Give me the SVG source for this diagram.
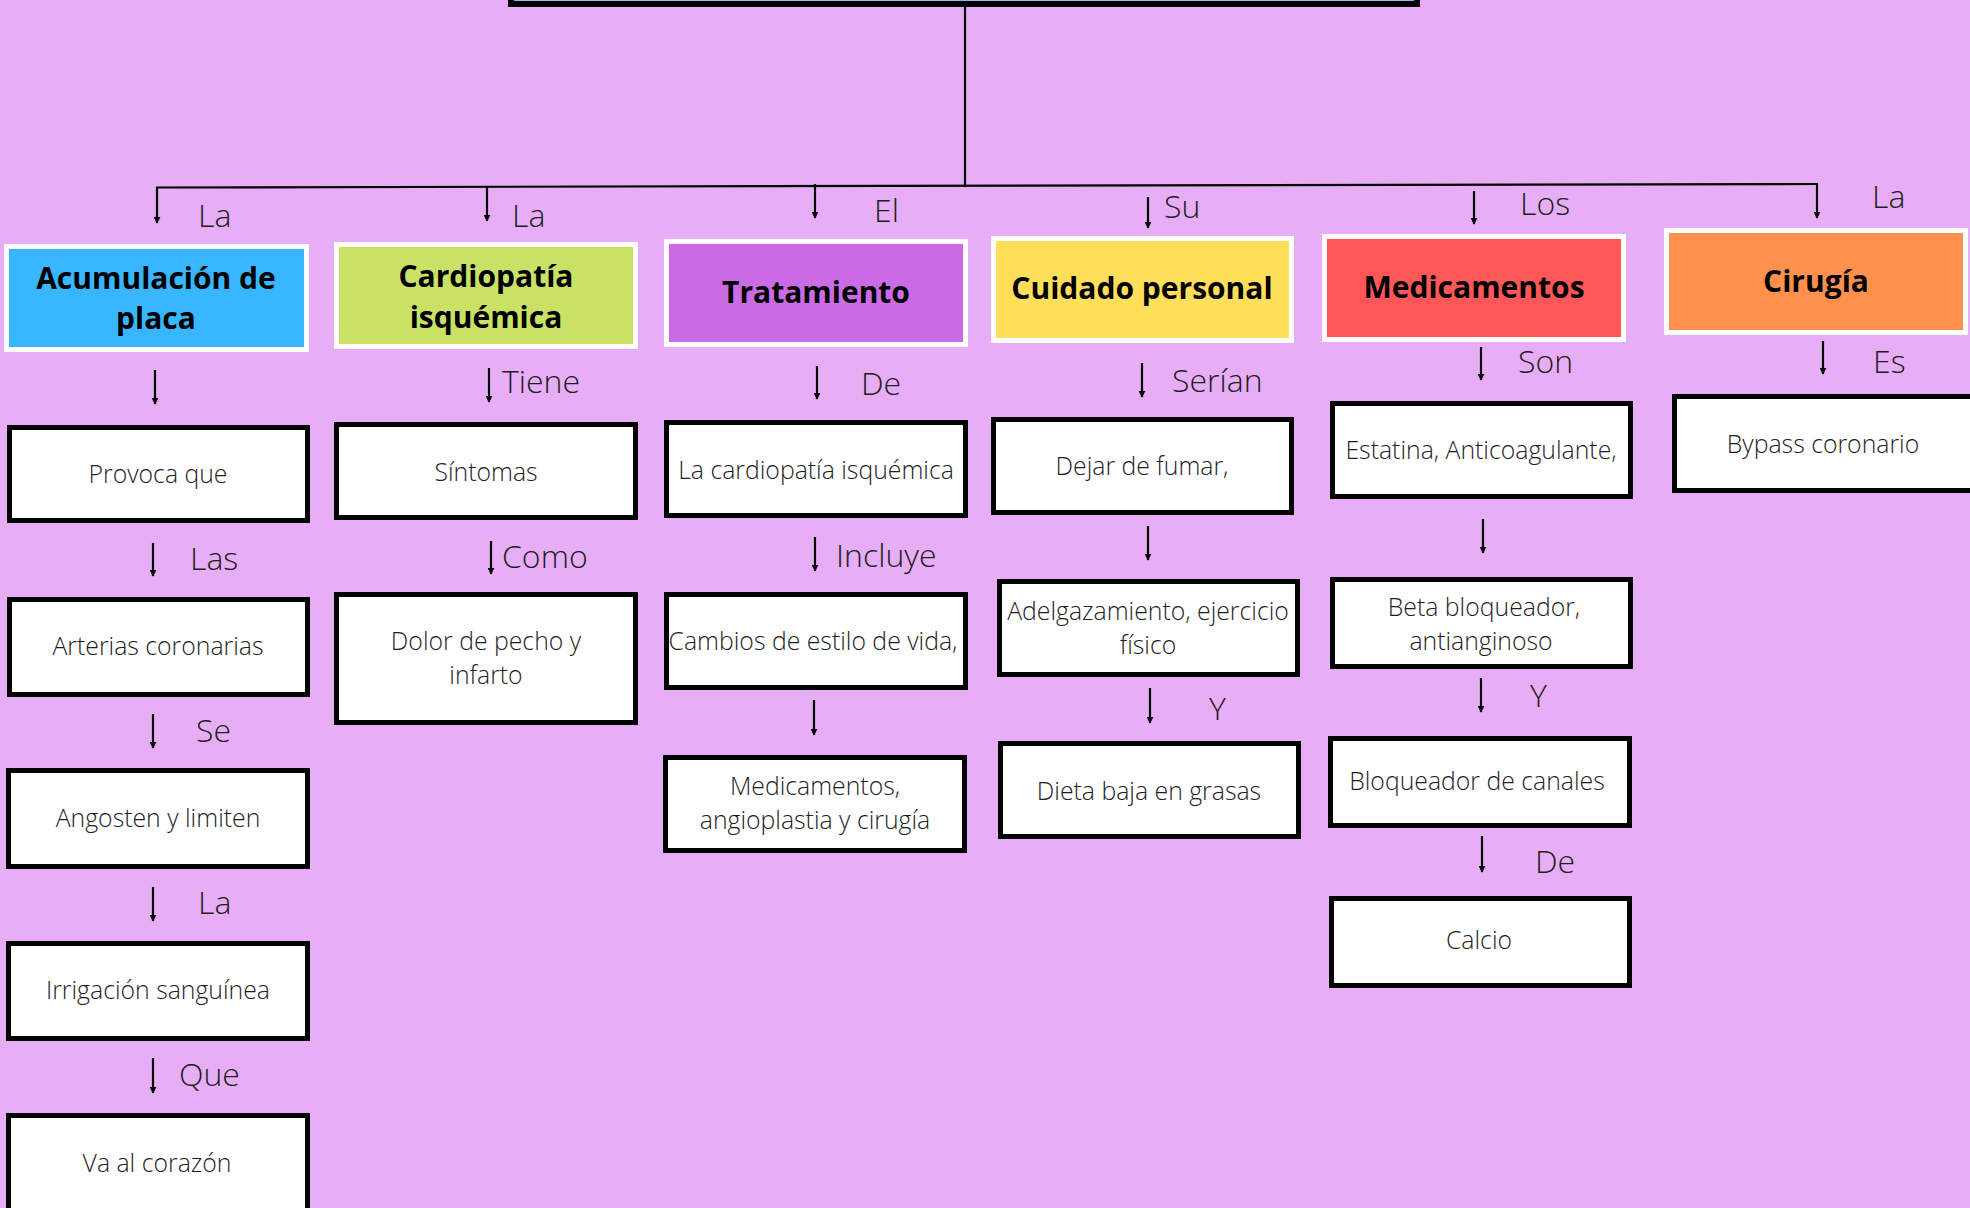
<svg xmlns="http://www.w3.org/2000/svg" width="1970" height="1208" viewBox="0 0 1970 1208">
  <style>
    .hdr { stroke: #ffffff; stroke-width: 5; }
    .hdr-t { font-family: "Open Sans", "Liberation Sans", sans-serif; font-weight: 700; font-size: 30px; fill: #000000; text-anchor: middle; }
    .box { fill: #ffffff; stroke: #000000; stroke-width: 5; }
    .box-t { font-family: "Open Sans", "Liberation Sans", sans-serif; font-weight: 300; font-size: 24.8px; fill: #1e1e1e; text-anchor: middle; }
    .lbl { font-family: "Open Sans", "Liberation Sans", sans-serif; font-weight: 300; font-size: 32px; fill: #1e1e1e; }
    .conn { stroke: #000000; stroke-width: 2.2; fill: none; }
    .arr { stroke: #000000; stroke-width: 2.2; fill: none; marker-end: url(#head); }
  </style>
  <defs>
    <marker id="head" viewBox="0 0 10 10" refX="9" refY="5" markerWidth="7" markerHeight="7" markerUnits="userSpaceOnUse" orient="auto">
      <path d="M0,0 L10,5 L0,10 z" fill="#000000"/>
    </marker>
  </defs>

  <!-- background -->
  <rect x="0" y="0" width="1970" height="1208" fill="#E7AEF7"/>

  <!-- title box (only its lower edge is in view) -->
  <g id="title">
    <rect x="511" y="-60" width="906" height="64" fill="#9CB2F2" stroke="#000000" stroke-width="6"/>
  </g>

  <!-- connectors -->
  <g id="connectors">
    <line class="conn" x1="965" y1="6" x2="965" y2="187"/>
    <line class="conn" x1="156" y1="187.5" x2="1818" y2="184"/>
    <line class="arr" x1="157" y1="187" x2="157" y2="223"/>
    <line class="arr" x1="487" y1="187" x2="487" y2="221"/>
    <line class="arr" x1="815" y1="184" x2="815" y2="218"/>
    <line class="arr" x1="1148" y1="197" x2="1148" y2="228"/>
    <line class="arr" x1="1474" y1="191" x2="1474" y2="224"/>
    <line class="arr" x1="1817" y1="184" x2="1817" y2="218"/>

    <!-- column 1 -->
    <line class="arr" x1="155" y1="370" x2="155" y2="404"/>
    <line class="arr" x1="153" y1="543" x2="153" y2="576"/>
    <line class="arr" x1="153" y1="714" x2="153" y2="748"/>
    <line class="arr" x1="153" y1="887" x2="153" y2="921"/>
    <line class="arr" x1="153" y1="1058" x2="153" y2="1093"/>
    <!-- column 2 -->
    <line class="arr" x1="489" y1="368" x2="489" y2="402"/>
    <line class="arr" x1="491" y1="541" x2="491" y2="574"/>
    <!-- column 3 -->
    <line class="arr" x1="817" y1="366" x2="817" y2="399"/>
    <line class="arr" x1="815" y1="537" x2="815" y2="571"/>
    <line class="arr" x1="814" y1="700" x2="814" y2="735"/>
    <!-- column 4 -->
    <line class="arr" x1="1142" y1="363" x2="1142" y2="397"/>
    <line class="arr" x1="1148" y1="526" x2="1148" y2="560"/>
    <line class="arr" x1="1150" y1="688" x2="1150" y2="723"/>
    <!-- column 5 -->
    <line class="arr" x1="1481" y1="347" x2="1481" y2="380"/>
    <line class="arr" x1="1483" y1="519" x2="1483" y2="553"/>
    <line class="arr" x1="1481" y1="678" x2="1481" y2="712"/>
    <line class="arr" x1="1482" y1="836" x2="1482" y2="872"/>
    <!-- column 6 -->
    <line class="arr" x1="1823" y1="341" x2="1823" y2="374"/>
  </g>

  <!-- connector labels -->
  <g id="labels">
    <text class="lbl" x="198" y="227">La</text>
    <text class="lbl" x="512" y="227">La</text>
    <text class="lbl" x="874" y="222">El</text>
    <text class="lbl" x="1164" y="218">Su</text>
    <text class="lbl" x="1520" y="215">Los</text>
    <text class="lbl" x="1872" y="208">La</text>
    <text class="lbl" x="190" y="570">Las</text>
    <text class="lbl" x="196" y="742">Se</text>
    <text class="lbl" x="198" y="914">La</text>
    <text class="lbl" x="179" y="1086">Que</text>
    <text class="lbl" x="502" y="393">Tiene</text>
    <text class="lbl" x="502" y="568">Como</text>
    <text class="lbl" x="861" y="395">De</text>
    <text class="lbl" x="836" y="567">Incluye</text>
    <text class="lbl" x="1172" y="392">Serían</text>
    <text class="lbl" x="1209" y="720">Y</text>
    <text class="lbl" x="1518" y="373">Son</text>
    <text class="lbl" x="1530" y="707">Y</text>
    <text class="lbl" x="1535" y="873">De</text>
    <text class="lbl" x="1873" y="373">Es</text>
  </g>

  <!-- category headers -->
  <g id="acumulacion">
    <rect class="hdr" x="6.5" y="246.5" width="300" height="103" fill="#38B6FF"/>
    <text class="hdr-t" x="156" y="289">Acumulación de</text>
    <text class="hdr-t" x="156" y="329">placa</text>
  </g>
  <g id="cardiopatia">
    <rect class="hdr" x="336.5" y="244.5" width="299" height="102" fill="#C9E265"/>
    <text class="hdr-t" x="486" y="287">Cardiopatía</text>
    <text class="hdr-t" x="486" y="328">isquémica</text>
  </g>
  <g id="tratamiento">
    <rect class="hdr" x="666.5" y="241.5" width="299" height="103" fill="#CB6CE6"/>
    <text class="hdr-t" x="816" y="303">Tratamiento</text>
  </g>
  <g id="cuidado">
    <rect class="hdr" x="993.5" y="238.5" width="298" height="102" fill="#FFDE59"/>
    <text class="hdr-t" x="1142" y="299">Cuidado personal</text>
  </g>
  <g id="medicamentos">
    <rect class="hdr" x="1324.5" y="236.5" width="299" height="103" fill="#FF5757"/>
    <text class="hdr-t" x="1474" y="298">Medicamentos</text>
  </g>
  <g id="cirugia">
    <rect class="hdr" x="1666.5" y="230.5" width="299" height="102" fill="#FF914D"/>
    <text class="hdr-t" x="1816" y="292">Cirugía</text>
  </g>

  <!-- column 1 nodes -->
  <g id="provoca">
    <rect class="box" x="9.5" y="427.5" width="298" height="93"/>
    <text class="box-t" x="158" y="483">Provoca que</text>
  </g>
  <g id="arterias">
    <rect class="box" x="9.5" y="599.5" width="298" height="95"/>
    <text class="box-t" x="158" y="655">Arterias coronarias</text>
  </g>
  <g id="angosten">
    <rect class="box" x="8.5" y="770.5" width="299" height="96"/>
    <text class="box-t" x="158" y="827">Angosten y limiten</text>
  </g>
  <g id="irrigacion">
    <rect class="box" x="8.5" y="943.5" width="299" height="95"/>
    <text class="box-t" x="158" y="999">Irrigación sanguínea</text>
  </g>
  <g id="corazon">
    <rect class="box" x="8.5" y="1115.5" width="299" height="110"/>
    <text class="box-t" x="157" y="1172">Va al corazón</text>
  </g>

  <!-- column 2 nodes -->
  <g id="sintomas">
    <rect class="box" x="336.5" y="424.5" width="299" height="93"/>
    <text class="box-t" x="486" y="481">Síntomas</text>
  </g>
  <g id="dolor">
    <rect class="box" x="336.5" y="594.5" width="299" height="128"/>
    <text class="box-t" x="486" y="650">Dolor de pecho y</text>
    <text class="box-t" x="486" y="684">infarto</text>
  </g>

  <!-- column 3 nodes -->
  <g id="la-cardiopatia">
    <rect class="box" x="666.5" y="422.5" width="299" height="93"/>
    <text class="box-t" x="816" y="479">La cardiopatía isquémica</text>
  </g>
  <g id="cambios">
    <rect class="box" x="666.5" y="594.5" width="299" height="93"/>
    <text class="box-t" x="813" y="650">Cambios de estilo de vida,</text>
  </g>
  <g id="medic-angio">
    <rect class="box" x="665.5" y="757.5" width="299" height="93"/>
    <text class="box-t" x="815" y="795">Medicamentos,</text>
    <text class="box-t" x="815" y="829">angioplastia y cirugía</text>
  </g>

  <!-- column 4 nodes -->
  <g id="fumar">
    <rect class="box" x="993.5" y="419.5" width="298" height="93"/>
    <text class="box-t" x="1142" y="475">Dejar de fumar,</text>
  </g>
  <g id="adelgazamiento">
    <rect class="box" x="999.5" y="581.5" width="298" height="93"/>
    <text class="box-t" x="1148" y="620">Adelgazamiento, ejercicio</text>
    <text class="box-t" x="1148" y="654">físico</text>
  </g>
  <g id="dieta">
    <rect class="box" x="1000.5" y="743.5" width="298" height="93"/>
    <text class="box-t" x="1149" y="800">Dieta baja en grasas</text>
  </g>

  <!-- column 5 nodes -->
  <g id="estatina">
    <rect class="box" x="1332.5" y="403.5" width="298" height="93"/>
    <text class="box-t" x="1481" y="459">Estatina, Anticoagulante,</text>
  </g>
  <g id="beta">
    <rect class="box" x="1332.5" y="579.5" width="298" height="87"/>
    <text class="box-t" x="1484" y="616">Beta bloqueador,</text>
    <text class="box-t" x="1481" y="650">antianginoso</text>
  </g>
  <g id="bloqueador">
    <rect class="box" x="1330.5" y="738.5" width="299" height="87"/>
    <text class="box-t" x="1477" y="790">Bloqueador de canales</text>
  </g>
  <g id="calcio">
    <rect class="box" x="1331.5" y="898.5" width="298" height="87"/>
    <text class="box-t" x="1479" y="949">Calcio</text>
  </g>

  <!-- column 6 node -->
  <g id="bypass">
    <rect class="box" x="1674.5" y="396.5" width="299" height="94"/>
    <text class="box-t" x="1823" y="453">Bypass coronario</text>
  </g>
</svg>
